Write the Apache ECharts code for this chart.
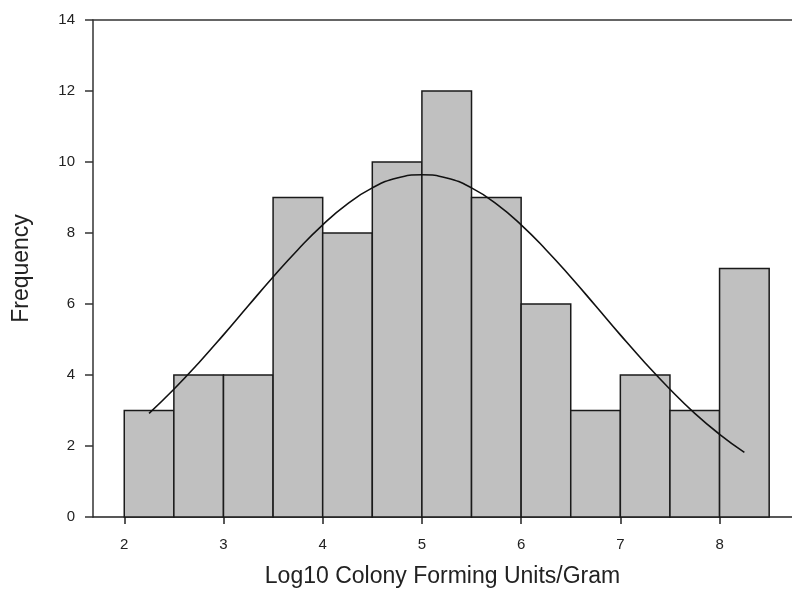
<!DOCTYPE html>
<html>
<head>
<meta charset="utf-8">
<script src="https://cdn.jsdelivr.net/npm/echarts@6/dist/echarts.min.js"></script>
<style>html,body{margin:0;padding:0;background:#fff}#c{width:792px;height:600px}</style>
</head>
<body>
<div id="c"></div>
<script>
// Histogram bins (start, end) and counts
const binStarts = [2.0, 2.5, 3.0, 3.5, 4.0, 4.5, 5.0, 5.5, 6.0, 6.5, 7.0, 7.5, 8.0];
const binEnds   = [2.5, 3.0, 3.5, 4.0, 4.5, 5.0, 5.5, 6.0, 6.5, 7.0, 7.5, 8.0, 8.5];
const counts    = [3, 4, 4, 9, 8, 10, 12, 9, 6, 3, 4, 3, 7];
// Fitted curve points
const curveX = [2.25, 2.5, 2.75, 3.0, 3.25, 3.5, 3.75, 4.0, 4.25, 4.5, 4.75, 5.0, 5.25, 5.5, 5.75, 6.0, 6.25, 6.5, 6.75, 7.0, 7.25, 7.5, 7.75, 8.0, 8.25];
const curveY = [2.92, 3.60, 4.34, 5.13, 5.95, 6.76, 7.53, 8.23, 8.82, 9.27, 9.55, 9.64, 9.55, 9.27, 8.82, 8.23, 7.53, 6.76, 5.95, 5.13, 4.34, 3.60, 2.92, 2.33, 1.82];
const xTicks = [2, 3, 4, 5, 6, 7, 8];
const yMin = 0, yMax = 14, yStep = 2;
const xMin = 1.685, xMax = 8.73;

const barData = counts.map((c, i) => [binStarts[i], binEnds[i], c]);
const lineData = curveX.map((x, i) => [x, curveY[i]]);

const chart = echarts.init(document.getElementById('c'), null, {renderer: 'canvas'});
const font = 'Liberation Sans, Arial, sans-serif';
chart.setOption({
  animation: false,
  backgroundColor: '#fff',
  grid: {left: 93, right: 0, top: 20, bottom: 83},
  xAxis: [{
    type: 'value', min: xMin, max: xMax,
    name: 'Log10 Colony Forming Units/Gram', nameLocation: 'middle', nameGap: 48,
    nameTextStyle: {fontFamily: font, fontSize: 23, color: '#222'},
    axisLine: {show: true, lineStyle: {color: '#222', width: 1.5}},
    axisTick: {show: true, length: 7, customValues: xTicks, lineStyle: {color: '#222', width: 1.5}},
    axisLabel: {customValues: xTicks, fontFamily: font, fontSize: 15, color: '#222', margin: 20},
    splitLine: {show: false}
  }, {
    type: 'value', position: 'top', min: xMin, max: xMax,
    axisLine: {show: true, lineStyle: {color: '#333', width: 1.5}},
    axisTick: {show: false}, axisLabel: {show: false}, splitLine: {show: false}
  }],
  yAxis: {
    type: 'value', min: yMin, max: yMax, interval: yStep,
    name: 'Frequency', nameLocation: 'middle', nameGap: 60, nameRotate: 90,
    nameTextStyle: {fontFamily: font, fontSize: 23, color: '#222'},
    axisLine: {show: true, lineStyle: {color: '#333', width: 1.5}},
    axisTick: {show: true, length: 8, lineStyle: {color: '#333', width: 1.5}},
    axisLabel: {fontFamily: font, fontSize: 15, color: '#222', margin: 18},
    splitLine: {show: false}
  },
  series: [{
    type: 'custom',
    data: barData,
    encode: {x: [0, 1], y: 2},
    renderItem: function (params, api) {
      const p0 = api.coord([api.value(0), api.value(2)]);
      const p1 = api.coord([api.value(1), 0]);
      return {
        type: 'rect',
        shape: {x: p0[0], y: p0[1], width: p1[0] - p0[0], height: p1[1] - p0[1]},
        style: {fill: '#c0c0c0', stroke: '#1a1a1a', lineWidth: 1.5}
      };
    }
  }, {
    type: 'line',
    data: lineData,
    smooth: true,
    showSymbol: false,
    lineStyle: {color: '#111', width: 1.6},
    z: 5
  }]
});
</script>
</body>
</html>
